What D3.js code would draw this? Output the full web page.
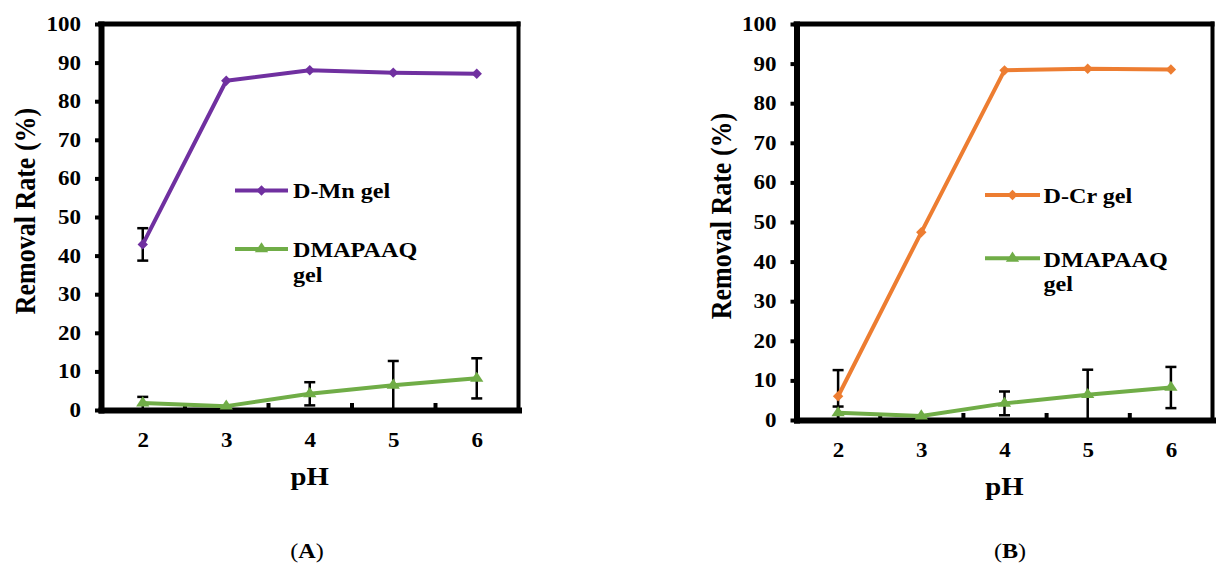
<!DOCTYPE html>
<html>
<head>
<meta charset="utf-8">
<script src="https://cdn.jsdelivr.net/npm/d3@7"></script>
<style>
  html, body { margin: 0; padding: 0; background: #ffffff; }
  svg { display: block; font-family: "Liberation Serif", "Times New Roman", serif; font-weight: bold; }
</style>
</head>
<body>
<svg id="chart" width="1223" height="568"></svg>
<script>
// pH values on the x axis
const pH = [2, 3, 4, 5, 6];
const yTicks = [0, 10, 20, 30, 40, 50, 60, 70, 80, 90, 100];

// Removal rate (%) and error bars (0 = no visible bar)
const mnRemoval = [42.9, 85.3, 88.0, 87.4, 87.1];
const mnError = [4.2, 0, 0, 0, 0];
const crRemoval = [6.0, 47.4, 88.3, 88.7, 88.5];
const crError = [6.6, 0, 0, 0, 0];
const dmapaaqRemoval = [1.8, 1.0, 4.2, 6.4, 8.2];
const dmapaaqError = [1.6, 0, 3.0, 6.3, 5.2];

// Series names
const mnName = "D-Mn gel";
const crName = "D-Cr gel";
const dmapaaqName = ["DMAPAAQ", "gel"];

const PURPLE = "#7030A0";
const ORANGE = "#ED7D31";
const GREEN = "#70AD47";
const SX = 1.15; // horizontal widening of the lettering

const svg = d3.select("#chart");

const panels = [
  {
    label: "A", left: 101, right: 518.5, top: 24, bottom: 410,
    main: { name: mnName, values: mnRemoval, errors: mnError, color: PURPLE },
    legend: { lineX0: 235, lineX1: 288, textX: 293, y1: 190.5, y2: 249 },
    labelX: 307
  },
  {
    label: "B", left: 796.5, right: 1212.5, top: 24, bottom: 420,
    main: { name: crName, values: crRemoval, errors: crError, color: ORANGE },
    legend: { lineX0: 985, lineX1: 1040, textX: 1043.5, y1: 195, y2: 258.3 },
    labelX: 1010
  }
];

const diamond = d3.symbol().type(d3.symbolSquare).size(54);
const triangle = d3.symbol().type(d3.symbolTriangle).size(58);

function drawPanel(p) {
  const g = svg.append("g");
  const x = d3.scaleLinear().domain([1.5, 6.5]).range([p.left, p.right]);
  const y = d3.scaleLinear().domain([0, 100]).range([p.bottom, p.top]);

  // top and right borders of the plot area
  g.append("line")
    .attr("x1", p.left - 3).attr("x2", p.right + 2)
    .attr("y1", p.top).attr("y2", p.top)
    .attr("stroke", "#000").attr("stroke-width", 5);
  g.append("line")
    .attr("x1", p.right).attr("x2", p.right)
    .attr("y1", p.top - 2.5).attr("y2", p.bottom)
    .attr("stroke", "#000").attr("stroke-width", 4);

  // y axis
  const yAxis = g.append("g")
    .attr("transform", `translate(${p.left},0)`)
    .call(d3.axisLeft(y).tickValues(yTicks).tickSize(6).tickSizeOuter(0).tickPadding(0));
  yAxis.select(".domain").attr("stroke-width", 6).attr("stroke-linecap", "square");
  yAxis.selectAll(".tick line").attr("stroke-width", 4);
  yAxis.selectAll(".tick text")
    .attr("x", -20 / SX)
    .attr("transform", `scale(${SX},1)`)
    .attr("fill", "#000")
    .style("font-size", "20px")
    .style("font-family", "'Liberation Serif', 'Times New Roman', serif")
    .style("font-weight", "bold");

  // x axis: inner tick marks between categories
  const xMarks = g.append("g")
    .attr("transform", `translate(0,${p.bottom})`)
    .call(d3.axisBottom(x).tickValues([2.5, 3.5, 4.5, 5.5]).tickSize(-7).tickSizeOuter(0).tickFormat(""));
  xMarks.select(".domain").attr("stroke-width", 6).attr("stroke-linecap", "square");
  xMarks.selectAll(".tick line").attr("stroke-width", 4);

  // x axis: category labels
  const xLabels = g.append("g")
    .attr("transform", `translate(0,${p.bottom})`)
    .call(d3.axisBottom(x).tickValues(pH).tickSize(0).tickPadding(22.8).tickFormat(d3.format("d")));
  xLabels.select(".domain").remove();
  xLabels.selectAll(".tick text")
    .attr("transform", `scale(${SX},1)`)
    .attr("fill", "#000")
    .style("font-size", "20px")
    .style("font-family", "'Liberation Serif', 'Times New Roman', serif")
    .style("font-weight", "bold");

  // axis titles
  g.append("text")
    .attr("transform", `translate(${p.left - 66},${(p.top + p.bottom) / 2 - 6}) scale(${SX},1) rotate(-90)`)
    .attr("text-anchor", "middle")
    .style("font-size", "26px")
    .text("Removal Rate (%)");
  g.append("text")
    .attr("transform", `translate(${(p.left + p.right) / 2},${p.bottom + 75}) scale(${SX},1)`)
    .attr("text-anchor", "middle")
    .style("font-size", "25px")
    .text("pH");

  // error bars
  const series = [
    { values: dmapaaqRemoval, errors: dmapaaqError },
    { values: p.main.values, errors: p.main.errors }
  ];
  const eb = g.append("g").attr("stroke", "#000").attr("stroke-width", 2.5);
  series.forEach(s => {
    pH.forEach((v, i) => {
      if (!s.errors[i]) return;
      const cx = x(v);
      const hi = y(s.values[i] + s.errors[i]);
      const lo = y(Math.max(0, s.values[i] - s.errors[i]));
      eb.append("line").attr("x1", cx).attr("x2", cx).attr("y1", hi).attr("y2", lo);
      eb.append("line").attr("x1", cx - 5.5).attr("x2", cx + 5.5).attr("y1", hi).attr("y2", hi);
      eb.append("line").attr("x1", cx - 5.5).attr("x2", cx + 5.5).attr("y1", lo).attr("y2", lo);
    });
  });

  const line = d3.line().x((d, i) => x(pH[i])).y(d => y(d));

  // DMAPAAQ gel series
  g.append("path").datum(dmapaaqRemoval)
    .attr("d", line).attr("fill", "none")
    .attr("stroke", GREEN).attr("stroke-width", 4).attr("stroke-linejoin", "round");
  g.selectAll(null).data(dmapaaqRemoval).join("path")
    .attr("d", triangle)
    .attr("transform", (d, i) => `translate(${x(pH[i])},${y(d)}) scale(${SX},1)`)
    .attr("fill", GREEN);

  // gel series of the panel
  g.append("path").datum(p.main.values)
    .attr("d", line).attr("fill", "none")
    .attr("stroke", p.main.color).attr("stroke-width", 4).attr("stroke-linejoin", "round");
  g.selectAll(null).data(p.main.values).join("path")
    .attr("d", diamond)
    .attr("transform", (d, i) => `translate(${x(pH[i])},${y(d)}) rotate(45)`)
    .attr("fill", p.main.color);

  // legend
  const L = p.legend;
  const lg = g.append("g");
  lg.append("line").attr("x1", L.lineX0).attr("x2", L.lineX1).attr("y1", L.y1).attr("y2", L.y1)
    .attr("stroke", p.main.color).attr("stroke-width", 4);
  lg.append("path").attr("d", diamond)
    .attr("transform", `translate(${(L.lineX0 + L.lineX1) / 2},${L.y1}) rotate(45)`)
    .attr("fill", p.main.color);
  lg.append("text")
    .attr("transform", `translate(${L.textX},${L.y1 + 7.5}) scale(${SX},1)`)
    .style("font-size", "21px")
    .text(p.main.name);

  lg.append("line").attr("x1", L.lineX0).attr("x2", L.lineX1).attr("y1", L.y2).attr("y2", L.y2)
    .attr("stroke", GREEN).attr("stroke-width", 4);
  lg.append("path").attr("d", triangle)
    .attr("transform", `translate(${(L.lineX0 + L.lineX1) / 2},${L.y2}) scale(${SX},1)`)
    .attr("fill", GREEN);
  dmapaaqName.forEach((t, k) => {
    lg.append("text")
      .attr("transform", `translate(${L.textX},${L.y2 + 8.3 + k * 24.5}) scale(${SX},1)`)
      .style("font-size", "21px")
      .text(t);
  });

  // panel caption
  const cap = svg.append("text")
    .attr("transform", `translate(${p.labelX},558) scale(${SX},1)`)
    .attr("text-anchor", "middle")
    .style("font-size", "21px");
  cap.append("tspan").style("font-weight", "normal").text("(");
  cap.append("tspan").style("font-weight", "bold").text(p.label);
  cap.append("tspan").style("font-weight", "normal").text(")");
}

panels.forEach(drawPanel);
</script>
</body>
</html>
